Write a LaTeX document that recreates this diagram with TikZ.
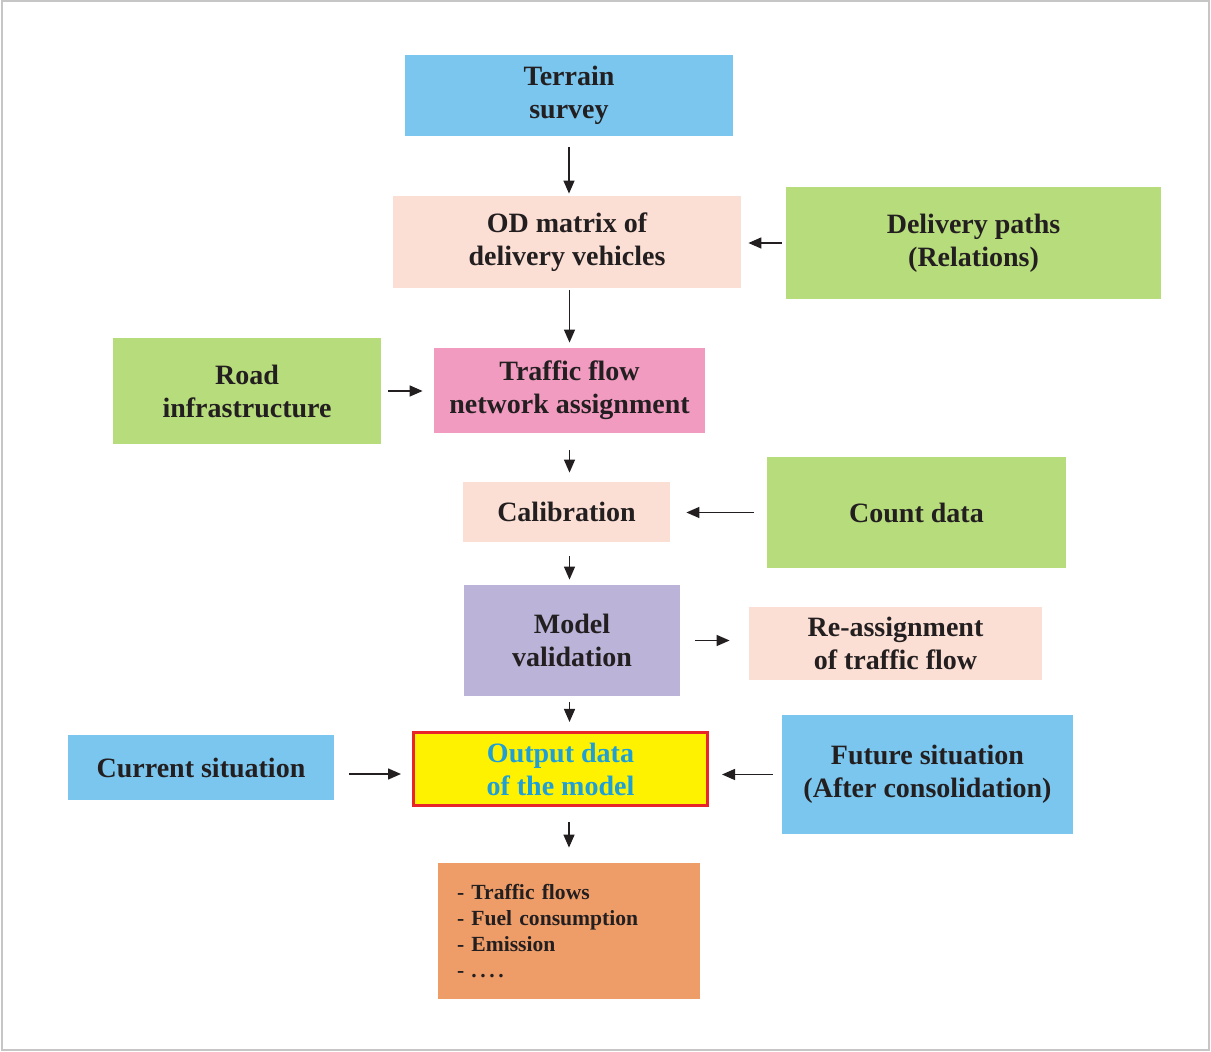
\documentclass[tikz,border=0pt]{standalone}
\usepackage{fontspec}
\setmainfont{Liberation Serif}
\usepackage{tikz}
\usetikzlibrary{arrows.meta,positioning}
\usepackage{xcolor}
\definecolor{ink}{HTML}{231F20}
\definecolor{skyb}{HTML}{7AC6EF}
\definecolor{peach}{HTML}{FBDED4}
\definecolor{leaf}{HTML}{B7DC7C}
\definecolor{rose}{HTML}{F29BC1}
\definecolor{lilac}{HTML}{BBB3D8}
\definecolor{apricot}{HTML}{EE9D69}
\definecolor{lemon}{HTML}{FFF200}
\definecolor{outred}{HTML}{E8262A}
\definecolor{outblue}{HTML}{1E9FD8}
\tikzset{
  box/.style={inner sep=2pt,text=ink,align=center,
    font=\fontsize{14}{16.5}\selectfont\bfseries},
  listbox/.style={inner xsep=9.5pt,text=ink,align=left,
    font=\fontsize{10.8}{13}\selectfont\bfseries},
  arr/.style={-{Triangle[length=6.5pt,width=5.5pt]},line width=0.7pt,ink},
}

\begin{document}
\begin{tikzpicture}[x=0.5pt,y=-0.5pt]
  \useasboundingbox (0,0) rectangle (1211,1052);
  \draw[gray!45,line width=1.2pt] (2,1) rectangle (1209,1050);

  % main column
  \node[box,fill=skyb,minimum width=164pt,minimum height=40.5pt] (terrain) at (569,95.5)
    {Terrain\\survey};
  \node[box,fill=peach,minimum width=174pt,minimum height=46pt] (od) at (567,242)
    {OD matrix of\\delivery vehicles};
  \node[box,fill=rose,minimum width=135.5pt,minimum height=42.5pt] (flow) at (569.5,390.5)
    {Traffic flow\\network assignment};
  \node[box,fill=peach,minimum width=103.5pt,minimum height=30pt] (calib) at (566.5,512)
    {Calibration};
  \node[box,fill=lilac,minimum width=108pt,minimum height=55.5pt] (valid) at (572,640.5)
    {Model\\validation};
  \node[box,fill=lemon,draw=outred,line width=1.5pt,text=outblue,
    minimum width=147pt,minimum height=36.5pt] (output) at (560.5,769)
    {Output data\\of the model};
  \node[listbox,fill=apricot,text width=112pt,minimum height=68pt] (results) at (569,931)
    {- Traffic flows\\- Fuel consumption\\- Emission\\-\ .\,.\,.\,.};

  % side inputs
  \node[box,fill=leaf,minimum width=187.5pt,minimum height=56pt] (paths) at (973.5,243)
    {Delivery paths\\(Relations)};
  \node[box,fill=leaf,minimum width=134pt,minimum height=53pt] (road) at (247,391)
    {Road\\infrastructure};
  \node[box,fill=leaf,minimum width=149.5pt,minimum height=55.5pt] (count) at (916.5,512.5)
    {Count data};
  \node[box,fill=peach,minimum width=146.5pt,minimum height=36.5pt] (reassign) at (895.5,643.5)
    {Re-assignment\\of traffic flow};
  \node[box,fill=skyb,minimum width=133pt,minimum height=32.5pt] (current) at (201,767.5)
    {Current situation};
  \node[box,fill=skyb,minimum width=145.5pt,minimum height=59.5pt] (future) at (927.5,774.5)
    {Future situation\\(After consolidation)};

  % connectors
  \draw[arr,shorten <=5.5pt,shorten >=1pt] (terrain.south) -- (terrain.south |- od.north);
  \draw[arr,shorten <=2pt,shorten >=3.5pt] (paths.west) -- (od.east |- paths.west);
  \draw[arr,shorten <=1pt,shorten >=2.5pt] (flow.north |- od.south) -- (flow.north);
  \draw[arr,shorten <=3.5pt,shorten >=5.5pt] (road.east) -- (flow.west |- road.east);
  \draw[arr,shorten <=8.5pt,shorten >=4.5pt] (flow.south) -- (flow.south |- calib.north);
  \draw[arr,shorten <=6.5pt,shorten >=8pt] (count.west) -- (calib.east |- count.west);
  \draw[arr,shorten <=7pt,shorten >=2.5pt] (flow.south |- calib.south) -- (flow.south |- valid.north);
  \draw[arr,shorten <=7.5pt,shorten >=9.5pt] (valid.east) -- (reassign.west |- valid.east);
  \draw[arr,shorten <=3pt,shorten >=4.5pt] (flow.south |- valid.south) -- (flow.south |- output.north);
  \draw[arr,shorten <=7.5pt,shorten >=5.5pt] ([yshift=-2.5pt]current.east |- output.west) -- ([yshift=-2.5pt]output.west);
  \draw[arr,shorten <=4.5pt,shorten >=6.5pt] (future.west) -- (output.east |- future.west);
  \draw[arr,shorten <=7.5pt,shorten >=7.5pt] (results.north |- output.south) -- (results.north);
\end{tikzpicture}
\end{document}
